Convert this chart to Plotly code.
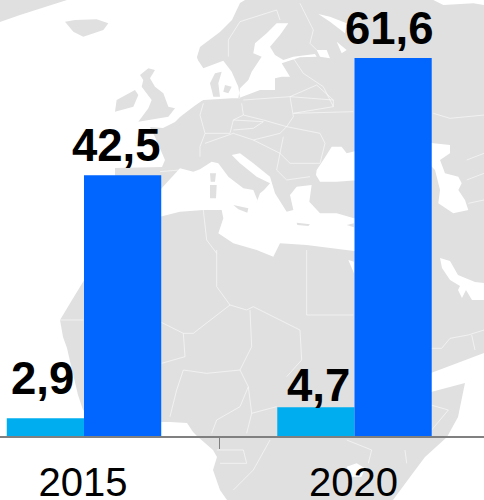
import plotly.graph_objects as go

# ---- chart data ----
years = ["2015", "2020"]
series_light = [2.9, 4.7]
series_dark = [42.5, 61.6]

LIGHT = "#00AEEF"
DARK = "#0066FF"
LAND = "#e0e0e0"
SEA = "#ffffff"
FONT = "Liberation Sans"

# ---- decorative backdrop map (picture pixels) ----
W, H, BASE = 484, 500, 436


def crop(ox, oy, pts):
    return [(ox + x / 3, oy + y / 3) for x, y in pts]


land_main = [(245, 0), (484, 0), (484, 353), (431, 373), (431, 392), (465, 383), (458, 417), (447, 437),
             (425, 457), (410, 477), (393, 500), (227, 500), (220, 490), (213, 470), (217, 457), (213, 450),
             (197, 436), (193, 432), (187, 423), (170, 422), (161, 422), (100, 420), (83, 410), (78, 395),
             (72, 370), (67, 348), (63, 337), (60, 320), (72, 300), (83, 282), (100, 260), (125, 230),
             (120, 200), (115, 175), (115, 168), (162, 167), (165, 160), (155, 137), (150, 127), (163, 128),
             (175, 122), (180, 117), (193, 107), (203, 100), (216, 96), (214, 80), (200, 70), (197, 57),
             (200, 47), (220, 32), (232, 20), (240, 3)]
land_islands = [
    [(0, 22), (20, 15), (67, 0), (0, 0)],
    crop(0, 0, [(195, 65), (225, 60), (290, 58), (325, 70), (310, 90), (250, 110), (220, 95)]),
    crop(60, 50, [(240, 75), (265, 55), (285, 60), (270, 85), (285, 110), (310, 130), (325, 170), (345, 175),
                  (325, 200), (235, 215), (265, 175), (275, 150), (245, 110), (250, 90)]),
    crop(60, 50, [(170, 150), (225, 120), (235, 135), (220, 170), (165, 185)]),
]
sea_polys = [
    # Mediterranean
    crop(160, 130, [(0, 180), (60, 115), (100, 125), (120, 118), (155, 95), (175, 100), (205, 140), (250, 175),
                    (280, 180), (292, 210), (288, 222), (300, 190), (312, 180), (330, 160), (290, 140),
                    (240, 100), (215, 75), (240, 70), (280, 100), (330, 140), (345, 190), (380, 245), (400, 240),
                    (390, 195), (410, 170), (455, 165), (448, 215), (480, 250), (530, 250), (582, 265), (600, 265),
                    (600, 365), (440, 345), (360, 340), (340, 380), (290, 360), (220, 340), (175, 310), (190, 265),
                    (185, 240), (130, 240), (60, 245), (0, 260)]),
    # Black Sea
    crop(160, 130, [(470, 120), (490, 90), (515, 50), (545, 50), (560, 70), (600, 60), (600, 150), (530, 155),
                    (480, 155), (468, 135)]),
    # Baltic and straits
    crop(160, 0, [(385, 70), (350, 70), (320, 100), (285, 130), (280, 160), (305, 170), (275, 215), (265, 240),
                  (240, 265), (235, 295), (300, 270), (345, 270), (345, 235), (365, 230), (390, 230), (365, 190),
                  (420, 172), (470, 170), (465, 162), (400, 170), (370, 180), (345, 165), (330, 140), (360, 105)]),
    crop(160, 0, [(110, 175), (130, 205), (190, 182), (215, 215), (235, 260), (240, 295), (215, 295), (130, 300),
                  (60, 330), (60, 200)]),
    # White Sea, Ladoga, Onega
    crop(160, 0, [(475, 42), (510, 50), (560, 70), (555, 100), (510, 65)]),
    crop(160, 0, [(470, 150), (500, 150), (510, 175), (480, 170)]),
    crop(160, 0, [(530, 125), (560, 150), (545, 160)]),
    # Barents edge
    crop(0, 0, [(1300, 0), (1330, 15), (1420, 10), (1452, 15), (1452, 0)]),
    # Caspian
    crop(425, 0, [(0, 425), (25, 430), (75, 435), (75, 460), (45, 480), (60, 520), (100, 530), (110, 550), (100, 570),
                  (120, 600), (130, 630), (85, 640), (40, 610), (45, 570), (30, 510), (0, 480)]),
    # Persian Gulf
    [(440, 258), (450, 261), (458, 275), (475, 282), (484, 283), (484, 300), (472, 300), (466, 290),
     (462, 298), (458, 290), (460, 286), (450, 280), (442, 268)],
    # Victoria, upper Red Sea
    crop(0, 250, [(1040, 650), (1070, 640), (1095, 655), (1085, 680), (1050, 680)]),
    crop(0, 250, [(1045, 30), (1062, 35), (1062, 70)]),
]
land_over = [
    crop(160, 0, [(165, 220), (185, 215), (175, 250), (180, 290), (160, 290), (150, 250)]),
    crop(160, 0, [(195, 255), (215, 260), (205, 280), (190, 275)]),
    crop(160, 130, [(150, 130), (168, 130), (165, 155), (152, 155)]),
    crop(160, 130, [(150, 165), (170, 165), (168, 205), (150, 205)]),
    crop(160, 130, [(220, 225), (265, 235), (262, 248), (235, 238)]),
    crop(160, 130, [(410, 278), (450, 283), (445, 288), (412, 285)]),
    crop(160, 130, [(560, 285), (582, 280), (582, 292)]),
]
border_lines = [
    crop(0, 250, [(650, 0), (650, 110), (690, 165), (740, 180), (760, 170), (900, 240), (905, 330), (860, 380)]),
    crop(0, 250, [(920, 0), (920, 195), (1060, 195)]),
    crop(0, 250, [(690, 165), (580, 250), (550, 250), (480, 215)]),
    crop(0, 250, [(550, 250), (555, 320), (485, 340)]),
    crop(0, 250, [(750, 180), (755, 290), (720, 360), (620, 370), (550, 360), (530, 420), (510, 500)]),
    crop(0, 250, [(720, 360), (745, 410), (755, 490), (830, 470)]),
    crop(0, 250, [(745, 410), (720, 470), (650, 510), (635, 550)]),
    crop(0, 250, [(755, 490), (740, 550)]),
    crop(0, 250, [(180, 210), (250, 210)]),
    crop(0, 250, [(650, 600), (730, 600), (740, 640), (660, 640)]),
    crop(0, 250, [(810, 570), (760, 660), (700, 720)]),
    crop(0, 250, [(1040, 570), (1115, 600), (1105, 640)]),
    crop(0, 250, [(1215, 600), (1220, 640)]),
    crop(425, 250, [(18, 295), (50, 295), (75, 265), (130, 255), (177, 240)]),
    crop(425, 250, [(140, 255), (150, 300)]),
    crop(425, 250, [(18, 465), (70, 480), (20, 540)]),
    crop(0, 0, [(730, 300), (870, 290), (880, 350), (860, 380), (790, 360), (730, 345), (725, 310)]),
    crop(0, 0, [(870, 290), (1000, 300), (1000, 320), (880, 340)]),
    crop(0, 0, [(880, 340), (1060, 335)]),
    crop(0, 0, [(870, 290), (950, 255), (1000, 300)]),
    crop(0, 0, [(610, 310), (600, 345), (615, 400), (690, 400), (700, 360), (730, 345)]),
    crop(0, 0, [(615, 400), (600, 440), (600, 470)]),
    crop(0, 0, [(615, 430), (700, 400), (760, 420)]),
    crop(0, 0, [(700, 360), (790, 365), (760, 385), (700, 390)]),
    crop(0, 0, [(760, 420), (840, 400), (860, 380), (960, 400), (975, 430), (960, 490), (870, 490), (840, 460), (850, 410)]),
    crop(0, 0, [(760, 420), (800, 440), (840, 460), (830, 510), (860, 540), (930, 530)]),
    crop(160, 0, [(205, 170), (205, 120), (240, 65), (350, 30), (360, 60)]),
    crop(160, 0, [(420, 10), (460, 90), (450, 130), (470, 150)]),
    crop(160, 0, [(400, 175), (430, 220), (490, 260), (520, 320)]),
    crop(0, 0, [(1300, 340), (1350, 355), (1452, 345)]),
    crop(0, 0, [(1400, 480), (1452, 460)]),
    crop(0, 0, [(1400, 540), (1452, 520)]),
    crop(425, 0, [(130, 610), (177, 600)]),
    crop(0, 0, [(480, 515), (540, 510)]),
    crop(160, 130, [(130, 240), (140, 330), (170, 370)]),
]


def path(pts, closed=True):
    cmds = [f"{'M' if i == 0 else 'L'} {x / W:.4f} {(BASE - y) / BASE:.4f}" for i, (x, y) in enumerate(pts)]
    return " ".join(cmds) + (" Z" if closed else "")


def area(polys, color):
    return dict(type="path", xref="paper", yref="paper", layer="below",
                path=" ".join(path(p) for p in polys), fillcolor=color, line=dict(width=0))


shapes = [area([land_main], LAND), area(sea_polys, SEA), area(land_over, LAND)]
shapes.append(dict(type="path", xref="paper", yref="paper", layer="below",
                   path=" ".join(path(p, False) for p in border_lines),
                   line=dict(color="rgba(255,255,255,0.55)", width=1)))
# islands go last so nothing in the map can paint over them
shapes += [area([p], LAND) for p in land_islands]

# ---- figure ----
fig = go.Figure()
fig.add_bar(x=years, y=series_light, marker_color=LIGHT, hoverinfo="skip", marker_line_width=0)
fig.add_bar(x=years, y=series_dark, marker_color=DARK, hoverinfo="skip", marker_line_width=0)

# value labels sit slightly off-centre in the source, each with its own nudge
light_xshift, light_yshift = [-42, -36.5], [12, -6]
dark_xshift, dark_yshift = [32, 35], [2, 2]
annotations = []
for vals, xs, ys in ((series_light, light_xshift, light_yshift), (series_dark, dark_xshift, dark_yshift)):
    for i, (v, dx, dy) in enumerate(zip(vals, xs, ys)):
        annotations.append(dict(x=i, y=v, xref="x", yref="y", text=f"{v:.1f}".replace(".", ","),
                                showarrow=False, xanchor="center", yanchor="bottom", xshift=dx, yshift=dy,
                                font=dict(family=FONT, size=45.5, color="#000000", weight="bold")))

px_per_cat = 270.5
centre0 = 84.0
fig.update_layout(
    width=W, height=H, autosize=False, showlegend=False, barmode="group", bargap=0.429, bargroupgap=0,
    margin=dict(l=0, r=0, t=0, b=H - BASE, pad=0), paper_bgcolor="white", plot_bgcolor="rgba(0,0,0,0)",
    shapes=shapes, annotations=annotations,
    font=dict(family=FONT),
    xaxis=dict(type="category", range=[-centre0 / px_per_cat, (W - centre0) / px_per_cat], automargin=False,
               tickson="boundaries", ticks="outside", ticklen=11, tickwidth=1, tickcolor="#808080",
               showline=True, linecolor="#808080", linewidth=2, showgrid=False, zeroline=False,
               ticklabelstandoff=10, ticklabelshift=-1,
               tickfont=dict(family=FONT, size=40, color="#000000")),
    yaxis=dict(range=[0, BASE / 6.136], visible=False, showgrid=False, zeroline=False, automargin=False),
)
fig.write_html("out.html", config=dict(displayModeBar=False),
               post_script="document.body.style.margin='0';document.body.style.overflow='hidden';")
